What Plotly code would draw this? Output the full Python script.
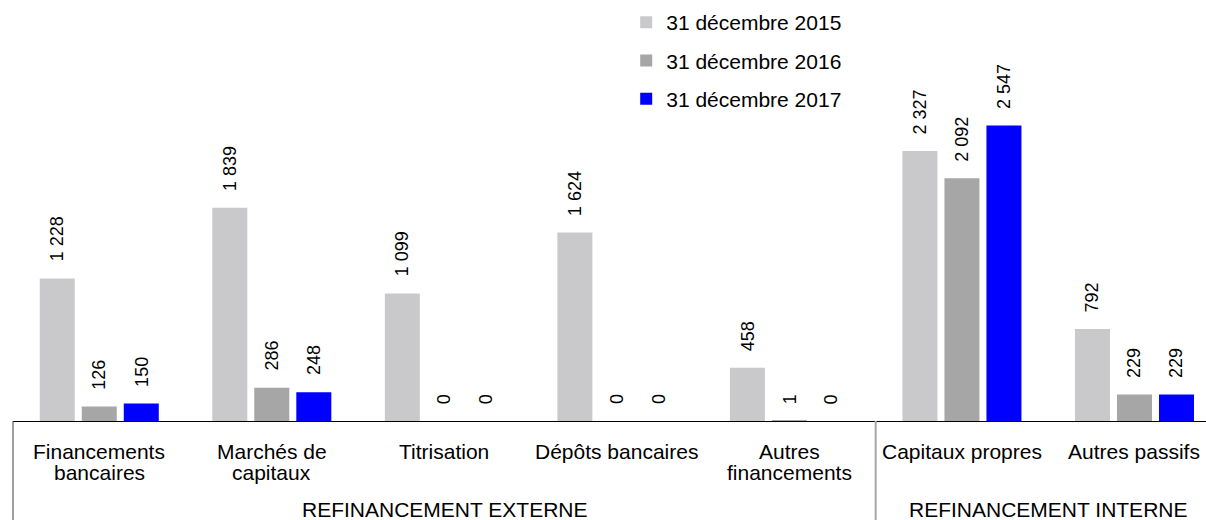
import plotly.graph_objects as go

# Refinancement par catégorie (en millions)
categories = ["Financements\nbancaires", "Marchés de\ncapitaux", "Titrisation",
              "Dépôts bancaires", "Autres\nfinancements", "Capitaux propres",
              "Autres passifs"]
series_names = ["31 décembre 2015", "31 décembre 2016", "31 décembre 2017"]
values_2015 = [1228, 1839, 1099, 1624, 458, 2327, 792]
values_2016 = [126, 286, 0, 0, 1, 2092, 229]
values_2017 = [150, 248, 0, 0, 0, 2547, 229]
groups = [("REFINANCEMENT EXTERNE", 0, 4), ("REFINANCEMENT INTERNE", 5, 6)]

colors = ["#C9C9CB", "#A6A6A6", "#0000FF"]
FONT = "Liberation Sans, Arial, sans-serif"

W, H = 1206, 520
ML, MB = 13, 99
plot_h = H - MB
y_max = 3629
x_right = 6.4145
cat_px = (W - ML) / (x_right + 0.5)

fig = go.Figure()
x_idx = list(range(len(categories)))
all_series = [values_2015, values_2016, values_2017]
for name, vals, col in zip(series_names, all_series, colors):
    fig.add_trace(go.Bar(
        x=x_idx, y=vals, name=name, marker=dict(color=col, line=dict(width=0)),
        legendgroup=name, hoverinfo="skip",
    ))

bargap = 0.2696
bargroupgap = 0.1667
slot_px = cat_px * (1 - bargap) / 3

annotations = []
# value labels, rotated, above each bar
for s, vals in enumerate(all_series):
    for i, v in enumerate(vals):
        annotations.append(dict(
            x=i, y=v, xref="x", yref="y", text=f"{v:,}".replace(",", " "),
            textangle=-90, showarrow=False, xanchor="center", yanchor="bottom",
            xshift=(s - 1) * slot_px, yshift=15,
            font=dict(family=FONT, size=18, color="#000000"),
        ))

# category labels (one annotation per line for tight line spacing)
for i, lab in enumerate(categories):
    for j, line in enumerate(lab.split("\n")):
        annotations.append(dict(
            x=i, y=0, xref="x", yref="paper", text=line, showarrow=False,
            xanchor="center", yanchor="middle", yshift=-(30 + j * 21),
            font=dict(family=FONT, size=21, color="#000000"),
        ))

# group labels
for title, a, b in groups:
    annotations.append(dict(
        x=(a + b) / 2, y=0, xref="x", yref="paper", text=title, showarrow=False,
        xanchor="center", yanchor="middle", yshift=-88,
        font=dict(family=FONT, size=21, color="#000000"),
    ))

bottom = -MB / plot_h
shapes = [
    dict(type="line", xref="paper", yref="paper", x0=0, x1=0, y0=0, y1=bottom,
         line=dict(color="#404040", width=1)),
    dict(type="line", xref="x", yref="paper", x0=groups[0][2] + 0.5, x1=groups[0][2] + 0.5,
         y0=0, y1=bottom, line=dict(color="#A6A6A6", width=2)),
]

fig.update_layout(
    width=W, height=H,
    margin=dict(l=ML, r=0, t=0, b=MB, pad=0),
    paper_bgcolor="white", plot_bgcolor="white",
    barmode="group", bargap=bargap, bargroupgap=bargroupgap,
    xaxis=dict(range=[-0.5, x_right], showticklabels=False, showgrid=False,
               zeroline=False, showline=True, linecolor="#000000", linewidth=1,
               ticks="", fixedrange=True),
    yaxis=dict(range=[0, y_max], visible=False, fixedrange=True),
    showlegend=True,
    legend=dict(x=0.514, y=0.995, xanchor="left", yanchor="top",
                font=dict(family=FONT, size=21, color="#000000"),
                tracegroupgap=8, itemwidth=30, bgcolor="rgba(0,0,0,0)"),
    annotations=annotations, shapes=shapes,
)

fig.write_html("out.html")
